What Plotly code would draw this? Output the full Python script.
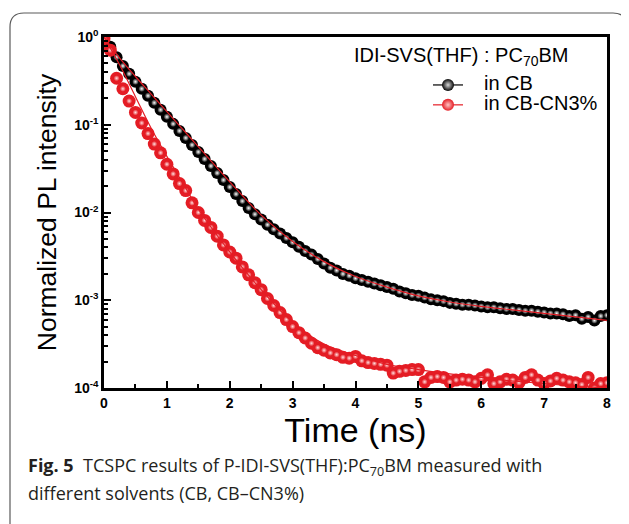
import plotly.graph_objects as go

# ---------------- data ----------------
time_ns = [0.0, 0.1, 0.2, 0.3, 0.4, 0.5, 0.6, 0.7, 0.8, 0.9,
           1.0, 1.1, 1.2, 1.3, 1.4, 1.5, 1.6, 1.7, 1.8, 1.9,
           2.0, 2.1, 2.2, 2.3, 2.4, 2.5, 2.6, 2.7, 2.8, 2.9,
           3.0, 3.1, 3.2, 3.3, 3.4, 3.5, 3.6, 3.7, 3.8, 3.9,
           4.0, 4.1, 4.2, 4.3, 4.4, 4.5, 4.6, 4.7, 4.8, 4.9,
           5.0, 5.1, 5.2, 5.3, 5.4, 5.5, 5.6, 5.7, 5.8, 5.9,
           6.0, 6.1, 6.2, 6.3, 6.4, 6.5, 6.6, 6.7, 6.8, 6.9,
           7.0, 7.1, 7.2, 7.3, 7.4, 7.5, 7.6, 7.7, 7.8, 7.9, 8.0]

# log10 of normalized PL intensity
cb_log = [-0.04, -0.11, -0.23, -0.33, -0.42, -0.51, -0.59, -0.67, -0.75, -0.83,
          -0.91, -0.99, -1.07, -1.15, -1.23, -1.31, -1.39, -1.47, -1.55, -1.63,
          -1.71, -1.79, -1.87, -1.95, -2.02, -2.08, -2.14, -2.19, -2.24, -2.29,
          -2.34, -2.39, -2.44, -2.48, -2.53, -2.58, -2.63, -2.66, -2.70, -2.72,
          -2.75, -2.77, -2.79, -2.81, -2.83, -2.85, -2.87, -2.90, -2.92, -2.94,
          -2.95, -2.97, -2.99, -3.00, -3.01, -3.03, -3.04, -3.05, -3.05, -3.06,
          -3.07, -3.08, -3.08, -3.09, -3.10, -3.10, -3.11, -3.12, -3.12, -3.13,
          -3.14, -3.15, -3.15, -3.16, -3.18, -3.17, -3.21, -3.19, -3.23, -3.18, -3.17]

cbcn_log = [-0.02, -0.15, -0.47, -0.59, -0.73, -0.86, -0.98, -1.10, -1.22, -1.32,
            -1.45, -1.56, -1.67, -1.75, -1.89, -2.00, -2.09, -2.17, -2.27, -2.37,
            -2.45, -2.52, -2.62, -2.71, -2.80, -2.88, -2.98, -3.06, -3.14, -3.22,
            -3.30, -3.37, -3.43, -3.49, -3.54, -3.57, -3.60, -3.62, -3.65, -3.66,
            -3.64, -3.69, -3.71, -3.72, -3.73, -3.74, -3.83, -3.81, -3.80, -3.79,
            -3.79, -3.93, -3.88, -3.87, -3.88, -3.93, -3.91, -3.90, -3.91, -3.93,
            -3.89, -3.85, -3.95, -3.93, -3.90, -3.91, -3.94, -3.88, -3.85, -3.91,
            -3.95, -3.92, -3.89, -3.91, -3.93, -3.94, -3.96, -3.88, -4.00, -3.95, -3.94]

fit_time = [0.0, 0.25, 0.5, 0.75, 1.0, 1.25, 1.5, 2.0, 2.5, 3.0, 3.5,
            4.0, 4.5, 5.0, 5.5, 6.0, 6.5, 7.0, 7.5, 8.0]
cb_fit_log = [0.0, -0.24, -0.45, -0.65, -0.85, -1.05, -1.25, -1.65, -2.03, -2.33, -2.56,
              -2.73, -2.85, -2.95, -3.02, -3.07, -3.11, -3.15, -3.19, -3.23]
cbcn_fit_log = [0.0, -0.32, -0.68, -1.04, -1.36, -1.66, -1.96, -2.45, -2.88, -3.25, -3.50,
                -3.63, -3.73, -3.79, -3.84, -3.88, -3.92, -3.95, -3.98, -4.00]

legend_title = "IDI-SVS(THF) : PC<sub>70</sub>BM"
series_names = ["in CB", "in CB-CN3%"]
y_tick_vals = [1e-4, 1e-3, 1e-2, 1e-1, 1e0]
y_tick_text = ["<b>10<sup>-4</sup></b>", "<b>10<sup>-3</sup></b>", "<b>10<sup>-2</sup></b>",
               "<b>10<sup>-1</sup></b>", "<b>10<sup>0</sup></b>"]
x_tick_vals = [0, 1, 2, 3, 4, 5, 6, 7, 8]
caption_1 = "<b>Fig. 5</b>  TCSPC results of P-IDI-SVS(THF):PC<sub>70</sub>BM measured with"
caption_2 = "different solvents (CB, CB\u2013CN3%)"

cb = [10 ** v for v in cb_log]
cbcn = [10 ** v for v in cbcn_log]
cb_fit = [10 ** v for v in cb_fit_log]
cbcn_fit = [10 ** v for v in cbcn_fit_log]

# ---------------- layout geometry ----------------
# The page body has an 8 px margin, so the figure is drawn 8 px in from the
# window edge; geometry below is given in window pixels and converted.
OFF = 8
W, H = 629 - OFF, 524 - OFF
L, R, T, B = 104 - OFF, 607 - OFF, 37 - OFF, 388 - OFF


def px(x):
    return (x - OFF - L) / (R - L)


def py(y):
    return (B - (y - OFF)) / (B - T)


FONT = "Liberation Sans, Arial, sans-serif"
BLACK = "#000000"
RED = "#e41c24"

# sphere look: solid base disc + small radial-gradient highlight on top
BLACK_BASE = dict(size=12, color="#000000", line=dict(width=0))
BLACK_HI = dict(size=6, color="#202020", line=dict(width=0),
                gradient=dict(type="radial", color="#ffffff"))
RED_BASE = dict(size=13, color=RED, line=dict(width=0))
RED_HI = dict(size=6, color=RED, line=dict(width=0),
              gradient=dict(type="radial", color="#ffe0e0"))

fig = go.Figure()

fig.add_trace(go.Scatter(x=time_ns, y=cb, mode="markers", showlegend=False, marker=BLACK_BASE))
fig.add_trace(go.Scatter(x=time_ns, y=cb, mode="markers", showlegend=False, marker=BLACK_HI,
                         hoverinfo="skip"))
fig.add_trace(go.Scatter(x=time_ns, y=cbcn, mode="markers", showlegend=False, marker=RED_BASE))
fig.add_trace(go.Scatter(x=time_ns, y=cbcn, mode="markers", showlegend=False, marker=RED_HI,
                         hoverinfo="skip"))
fig.add_trace(go.Scatter(x=fit_time, y=cb_fit, mode="lines", showlegend=False,
                         line=dict(color=RED, width=1.2, shape="spline")))
fig.add_trace(go.Scatter(x=fit_time, y=cbcn_fit, mode="lines", showlegend=False,
                         line=dict(color=RED, width=1.2, shape="spline")))

# legend symbols (text drawn as annotations for tighter row spacing)
fig.add_trace(go.Scatter(x=[None], y=[None], mode="lines+markers", name="",
                         line=dict(color=BLACK, width=1.2),
                         marker=dict(size=12, color="#050505", line=dict(width=0),
                                     gradient=dict(type="radial", color="#d8d8d8"))))
fig.add_trace(go.Scatter(x=[None], y=[None], mode="lines+markers", name="",
                         line=dict(color=RED, width=1.2),
                         marker=dict(size=12, color=RED, line=dict(width=0),
                                     gradient=dict(type="radial", color="#ffc4c4"))))

fig.update_layout(
    width=W, height=H,
    margin=dict(l=L, r=W - R, t=T, b=H - B, pad=0),
    paper_bgcolor="white", plot_bgcolor="white",
    font=dict(family=FONT, color=BLACK),
    showlegend=True,
    legend=dict(x=px(428), y=py(70), xanchor="left", yanchor="top",
                bgcolor="rgba(0,0,0,0)", font=dict(size=13, family=FONT),
                itemwidth=30, tracegroupgap=0, borderwidth=0),
    xaxis=dict(range=[0, 8], showgrid=False, zeroline=False,
               showline=True, linecolor=BLACK, linewidth=2.5, mirror=True,
               ticks="inside", ticklen=7, tickwidth=2, tickcolor=BLACK,
               tickvals=x_tick_vals,
               ticktext=["<b>%d</b>" % v for v in x_tick_vals],
               tickfont=dict(size=14, family=FONT),
               minor=dict(ticks="inside", ticklen=4, tickwidth=1.5, tickcolor=BLACK,
                          dtick=0.5, showgrid=False),
               title=dict(text="Time (ns)", font=dict(size=34, family=FONT), standoff=8)),
    yaxis=dict(type="log", range=[-4, 0], showgrid=False, zeroline=False,
               showline=True, linecolor=BLACK, linewidth=2.5, mirror=True,
               ticks="inside", ticklen=7, tickwidth=2, tickcolor=BLACK,
               tickvals=y_tick_vals, ticktext=y_tick_text,
               tickfont=dict(size=14, family=FONT),
               minor=dict(ticks="inside", ticklen=4, tickwidth=1.5, tickcolor=BLACK,
                          tickvals=[m * 10 ** e for e in (-4, -3, -2, -1) for m in range(2, 10)],
                          showgrid=False),
               title=dict(text="Normalized PL intensity", font=dict(size=26.5, family=FONT),
                          standoff=10)),
)

# legend header and entry texts
fig.add_annotation(xref="paper", yref="paper", x=px(352), y=py(56),
                   xanchor="left", yanchor="middle", showarrow=False,
                   text=legend_title, font=dict(size=20, family=FONT, color=BLACK))
for name, ypix in zip(series_names, [83, 103]):
    fig.add_annotation(xref="paper", yref="paper", x=px(482), y=py(ypix),
                       xanchor="left", yanchor="middle", showarrow=False,
                       text=name, font=dict(size=20, family=FONT, color=BLACK))

# caption
fig.add_annotation(xref="paper", yref="paper", x=px(26), y=py(466),
                   xanchor="left", yanchor="middle", showarrow=False,
                   text=caption_1, font=dict(size=18, family="Open Sans", color="#231f20"))
fig.add_annotation(xref="paper", yref="paper", x=px(26), y=py(493),
                   xanchor="left", yanchor="middle", showarrow=False,
                   text=caption_2, font=dict(size=18, family="Open Sans", color="#231f20"))

# rounded frame around figure and caption
x0, y0, x1, y1, r = 10, 13, 627, 540, 14
path = (f"M {px(x0)},{py(y1)} L {px(x0)},{py(y0 + r)} "
        f"Q {px(x0)},{py(y0)} {px(x0 + r)},{py(y0)} "
        f"L {px(x1 - r)},{py(y0)} Q {px(x1)},{py(y0)} {px(x1)},{py(y0 + r)} "
        f"L {px(x1)},{py(y1)}")
fig.add_shape(type="path", xref="paper", yref="paper", path=path,
              line=dict(color="#5a5a5a", width=1.2), layer="below")

fig.write_html("out.html")
